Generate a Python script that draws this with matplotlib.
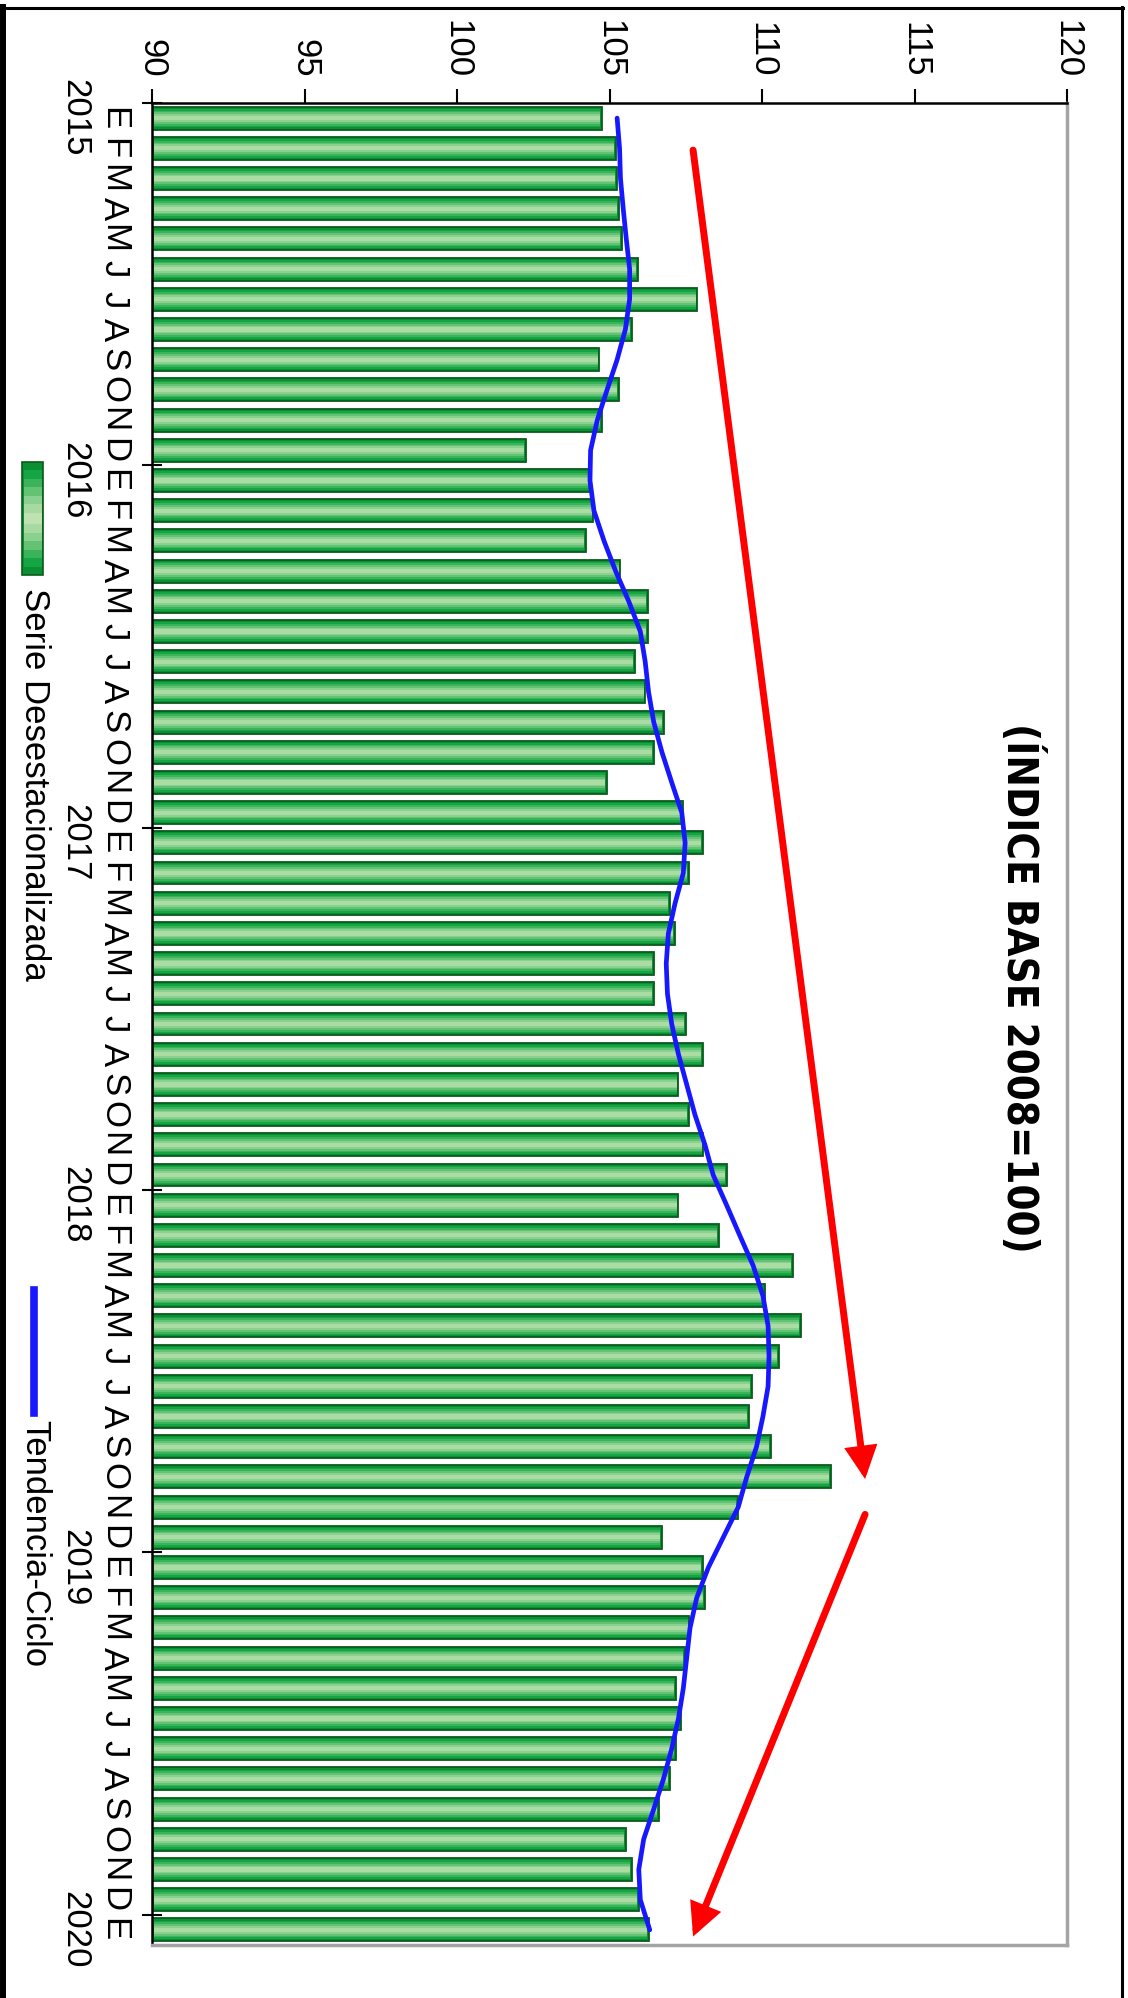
import numpy as np
import matplotlib
matplotlib.use("Agg")
import matplotlib.pyplot as plt
from matplotlib import transforms
from matplotlib.patches import Rectangle
from matplotlib.lines import Line2D
import matplotlib.font_manager as fm
from matplotlib.font_manager import FontProperties

# ---------------- data ----------------
months = ["E", "F", "M", "A", "M", "J", "J", "A", "S", "O", "N", "D"]
years = ["2015", "2016", "2017", "2018", "2019", "2020"]
month_labels = months * 5 + ["E"]

serie = np.array([
    104.76, 105.20, 105.25, 105.30, 105.41, 105.92, 107.88, 105.74, 104.67, 105.30, 104.76, 102.26,
    104.35, 104.47, 104.22, 105.36, 106.27, 106.27, 105.82, 106.18, 106.79, 106.45, 104.92, 107.42,
    108.05, 107.60, 106.97, 107.15, 106.45, 106.45, 107.51, 108.05, 107.26, 107.60, 108.08, 108.85,
    107.26, 108.60, 111.01, 110.09, 111.28, 110.55, 109.66, 109.58, 110.28, 112.26, 109.20, 106.72,
    108.05, 108.14, 107.62, 107.48, 107.17, 107.34, 107.17, 106.97, 106.61, 105.55, 105.74, 105.96,
    106.28,
])

tendencia = np.array([
    105.25, 105.33, 105.36, 105.45, 105.55, 105.66, 105.66, 105.52, 105.25, 104.92, 104.60, 104.38,
    104.36, 104.49, 104.82, 105.20, 105.63, 106.01, 106.17, 106.28, 106.45, 106.72, 107.04, 107.37,
    107.48, 107.42, 107.15, 106.93, 106.86, 106.90, 107.04, 107.26, 107.53, 107.80, 108.13, 108.40,
    108.84, 109.27, 109.71, 110.03, 110.20, 110.23, 110.20, 110.03, 109.82, 109.50, 109.22, 108.73,
    108.24, 107.86, 107.64, 107.53, 107.42, 107.26, 107.04, 106.77, 106.45, 106.12, 105.96, 106.01,
    106.32,
])

x_ticks = [90, 95, 100, 105, 110, 115, 120]
title = "(ÍNDICE BASE 2008=100)"
legend_labels = ["Serie Desestacionalizada", "Tendencia-Ciclo"]

# ---------------- fonts ----------------
names = {f.name for f in fm.fontManager.ttflist}
base_font = "Liberation Sans" if "Liberation Sans" in names else "DejaVu Sans"
plt.rcParams["font.family"] = [base_font, "DejaVu Sans"]

title_fp = None
for key in ["LiberationSansNarrow-Bold", "DejaVuSansCondensed-Bold", "LiberationSans-Bold"]:
    for f in fm.fontManager.ttflist:
        if key.lower() in f.fname.lower().replace(" ", ""):
            title_fp = FontProperties(fname=f.fname)
            break
    if title_fp is not None:
        break
if title_fp is None:
    title_fp = FontProperties(family=base_font, weight="bold")

W, H = 1128, 1998
fig = plt.figure(figsize=(W / 100, H / 100), dpi=100)
fig.patch.set_facecolor("white")


def fx(px):
    return px / W


def fy(py):
    return 1 - py / H


ax = fig.add_axes([fx(152), fy(1945), (1067 - 152) / W, (1945 - 103) / H])

y = np.arange(len(serie))
x0 = x_ticks[0]

# bars with layered gradient
ax.barh(y, serie - x0, left=x0, height=0.76, color="#0a8f33",
        edgecolor="#0a5c1c", linewidth=1.3, zorder=2)
for h, c in [(0.62, "#14a544"), (0.50, "#3ab35a"), (0.38, "#63c274"),
             (0.26, "#8ad08e"), (0.14, "#aadca4")]:
    ax.barh(y, serie - x0 - 0.12, left=x0 + 0.06, height=h, color=c,
            linewidth=0, zorder=3)

# trend line
ax.plot(tendencia, y, color="#1818ff", lw=3.4, zorder=4,
        solid_capstyle="round", solid_joinstyle="round")

ax.set_xlim(90, 120)
ax.set_ylim(len(serie) - 0.5, -0.5)

ax.xaxis.tick_top()
ax.set_xticks(x_ticks)
ax.set_xticklabels([str(t) for t in x_ticks])
ax.tick_params(axis="x", direction="out", length=10, width=1.5, pad=8,
               labelsize=25, labelrotation=-90, colors="black")

year_bounds = [12 * k - 0.5 for k in range(len(years))]
ax.set_yticks(year_bounds)
ax.set_yticklabels([""] * len(year_bounds))
ax.tick_params(axis="y", direction="inout", length=14.5, width=1.5)

for s in ["top", "left"]:
    ax.spines[s].set_color("black")
    ax.spines[s].set_linewidth(1.8)
for s in ["right", "bottom"]:
    ax.spines[s].set_color("#a4a4a4")
    ax.spines[s].set_linewidth(2.5)

# month & year labels
trans = transforms.blended_transform_factory(fig.transFigure, ax.transData)
for i, m in enumerate(month_labels):
    ax.text(fx(113.5), i, m, transform=trans, rotation=-90, rotation_mode="anchor",
            ha="center", va="center", fontsize=25, clip_on=False)
for k, yr in enumerate(years):
    ax.text(fx(75), 12 * k, yr, transform=trans, rotation=-90, rotation_mode="anchor",
            ha="center", va="center", fontsize=25, clip_on=False)

# red arrows (annotations)
arrow_kw = dict(arrowstyle="-|>", color="#ff0000", lw=5, mutation_scale=40,
                shrinkA=0, shrinkB=0, joinstyle="miter")
ax.annotate("", xy=(113.38, 45.07), xytext=(107.74, 1.06),
            arrowprops=arrow_kw, annotation_clip=False)
ax.annotate("", xy=(107.74, 60.22), xytext=(113.38, 46.24),
            arrowprops=arrow_kw, annotation_clip=False)

# title, sized so its length matches the reference (~530 px)
title_fp.set_size(38)
t = fig.text(fx(1020), fy(988), title, rotation=-90, rotation_mode="anchor",
             ha="center", va="center", fontproperties=title_fp)
renderer = fig.canvas.get_renderer()
ext = t.get_window_extent(renderer)
new_size = 38 * 530.0 / ext.height
title_fp.set_size(new_size)
t.set_fontproperties(title_fp)

# legend (manual, rotated)
lx0, lx1, ly0, ly1 = 22, 43, 462, 575
fig.add_artist(Rectangle((fx(lx0), fy(ly1)), (lx1 - lx0) / W, (ly1 - ly0) / H,
                         transform=fig.transFigure, facecolor="#0a8f33",
                         edgecolor="#0a5c1c", linewidth=1.2))
cy = (ly0 + ly1) / 2
for frac, c in [(0.85, "#14a544"), (0.7, "#3ab35a"), (0.55, "#63c274"),
                (0.4, "#8ad08e"), (0.25, "#a8d9a0"), (0.1, "#bfe2b2")]:
    hh = (ly1 - ly0) * frac
    fig.add_artist(Rectangle((fx(lx0 + 1.5), fy(cy + hh / 2)), (lx1 - lx0 - 3) / W, hh / H,
                             transform=fig.transFigure, facecolor=c, linewidth=0))
fig.text(fx(34.5), fy(588), legend_labels[0], rotation=-90, rotation_mode="anchor",
         ha="left", va="center", fontsize=25)
fig.add_artist(Line2D([fx(34), fx(34)], [fy(1290), fy(1413)], color="#1818ff", lw=5.5,
                      transform=fig.transFigure))
fig.text(fx(34.5), fy(1420), legend_labels[1], rotation=-90, rotation_mode="anchor",
         ha="left", va="center", fontsize=25)

# outer frame
fig.add_artist(Line2D([fx(3), fx(3)], [fy(7), fy(1998)], color="black", lw=4.3,
                      transform=fig.transFigure))
fig.add_artist(Line2D([fx(0), fx(1123)], [fy(8), fy(8)], color="black", lw=2.2,
                      transform=fig.transFigure))
fig.add_artist(Line2D([fx(1122), fx(1122)], [fy(7), fy(1998)], color="black", lw=2.2,
                      transform=fig.transFigure))

fig.savefig("out.png", dpi=100, facecolor="white")
